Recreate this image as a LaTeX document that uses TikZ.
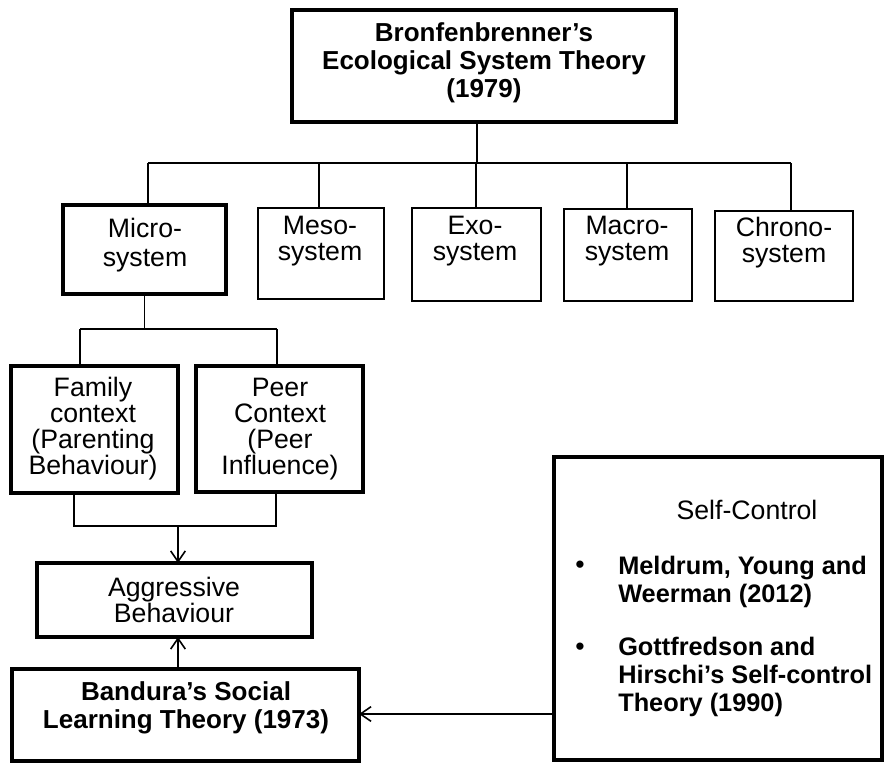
\documentclass[tikz,border=0pt]{standalone}
\usepackage{fontspec}
\setmainfont{Liberation Sans}
\usetikzlibrary{arrows.meta}
\begin{document}
\begin{tikzpicture}[x=0.75pt,y=-0.75pt,
  thickbox/.style={draw, line width=2.4pt, inner sep=0pt, outer sep=0pt, rectangle},
  thinbox/.style={draw, line width=1.3pt, inner sep=0pt, outer sep=0pt, rectangle},
  lbl/.style={align=center, font=\fontsize{20pt}{19.5pt}\selectfont, inner sep=0pt},
  blbl/.style={align=center, font=\fontsize{19.5pt}{21pt}\selectfont\bfseries, inner sep=0pt},
  llbl/.style={align=left, font=\fontsize{19pt}{21pt}\selectfont\bfseries, inner sep=0pt, anchor=west},
  conn/.style={line width=1.2pt},
  arr/.style={conn, -{Straight Barb[length=8pt,width=11pt]}}]
\useasboundingbox (0,0) rectangle (886,764);

% boxes
\node[thickbox, minimum width=288pt, minimum height=84pt] (top) at (484,66) {};
\node[thickbox, minimum width=122.25pt, minimum height=66.75pt] (micro) at (144.5,249.5) {};
\node[thinbox, minimum width=94.5pt, minimum height=68.25pt] (meso) at (321,253.5) {};
\node[thinbox, minimum width=96.75pt, minimum height=69.75pt] (exo) at (476.5,254.5) {};
\node[thinbox, minimum width=96pt, minimum height=69pt] (macro) at (628,255) {};
\node[thinbox, minimum width=103.5pt, minimum height=67.5pt] (chrono) at (784,256) {};
\node[thickbox, minimum width=125.25pt, minimum height=95.25pt] (family) at (94.5,429.5) {};
\node[thickbox, minimum width=125.25pt, minimum height=94.5pt] (peer) at (279.5,429) {};
\node[thickbox, minimum width=206.25pt, minimum height=55.5pt] (aggr) at (174.5,600) {};
\node[thickbox, minimum width=260.25pt, minimum height=69pt] (bandura) at (185.5,715) {};
\node[thickbox, minimum width=246pt, minimum height=227.25pt] (self) at (718,608.5) {};

% texts
\node[blbl] (topT) at (484,63) {Bronfenbrenner’s\\Ecological System Theory\\(1979)};
\node[lbl, font=\fontsize{20pt}{22pt}\selectfont] (microT) at (145,245) {Micro-\\system};
\node[lbl] (mesoT) at (320,241) {Meso-\\system};
\node[lbl] (exoT) at (475,241) {Exo-\\system};
\node[lbl] (macroT) at (627,241) {Macro-\\system};
\node[lbl] (chronoT) at (784,243) {Chrono-\\system};
\node[lbl] (familyT) at (93,429) {Family\\context\\(Parenting\\Behaviour)};
\node[lbl] (peerT) at (280,429) {Peer\\Context\\(Peer\\Influence)};
\node[lbl] (aggrT) at (174,600) {Aggressive\\Behaviour};
\node[blbl] (bandT) at (186,708) {Bandura’s Social\\Learning Theory (1973)};
\node[lbl] (selfT) at (747,510) {Self-Control};
\node[lbl] (b1) at (580,567) {•};
\node[lbl] (b2) at (580,649) {•};
\node[llbl] (i1) at (618,581.5) {Meldrum, Young and\\Weerman (2012)};
\node[llbl] (i2) at (618,677) {Gottfredson and\\Hirschi’s Self-control\\Theory (1990)};

% connectors
\coordinate (busL) at (148,163);
\coordinate (busR) at (791,163);
\coordinate (dTop) at (477,163);
\coordinate (dMeso) at (319,163);
\coordinate (dExo) at (476,163);
\coordinate (dMacro) at (627,163);
\draw[conn] (dTop |- top.south) -- (dTop);
\draw[conn] (busL) -- (busR);
\draw[conn] (busL) -- (busL |- micro.north);
\draw[conn] (dMeso) -- (dMeso |- meso.north);
\draw[conn] (dExo) -- (dExo |- exo.north);
\draw[conn] (dMacro) -- (dMacro |- macro.north);
\draw[conn] (busR) -- (busR |- chrono.north);

\coordinate (sbL) at (80,329);
\coordinate (sbR) at (277,329);
\draw[conn] (micro.south) -- (micro.south |- sbL);
\draw[conn] (sbL) -- (sbR);
\draw[conn] (sbL) -- (sbL |- family.north);
\draw[conn] (sbR) -- (sbR |- peer.north);

\coordinate (jL) at (74,526);
\coordinate (jR) at (276,526);
\coordinate (jM) at (178,526);
\draw[conn] (jL |- family.south) -- (jL) -- (jR) -- (jR |- peer.south);
\draw[arr] (jM) -- (jM |- aggr.north);
\draw[arr] (jM |- bandura.north) -- (jM |- aggr.south);

\coordinate (ay) at (554,714);
\draw[arr] (ay) -- (ay -| bandura.east);
\end{tikzpicture}
\end{document}
